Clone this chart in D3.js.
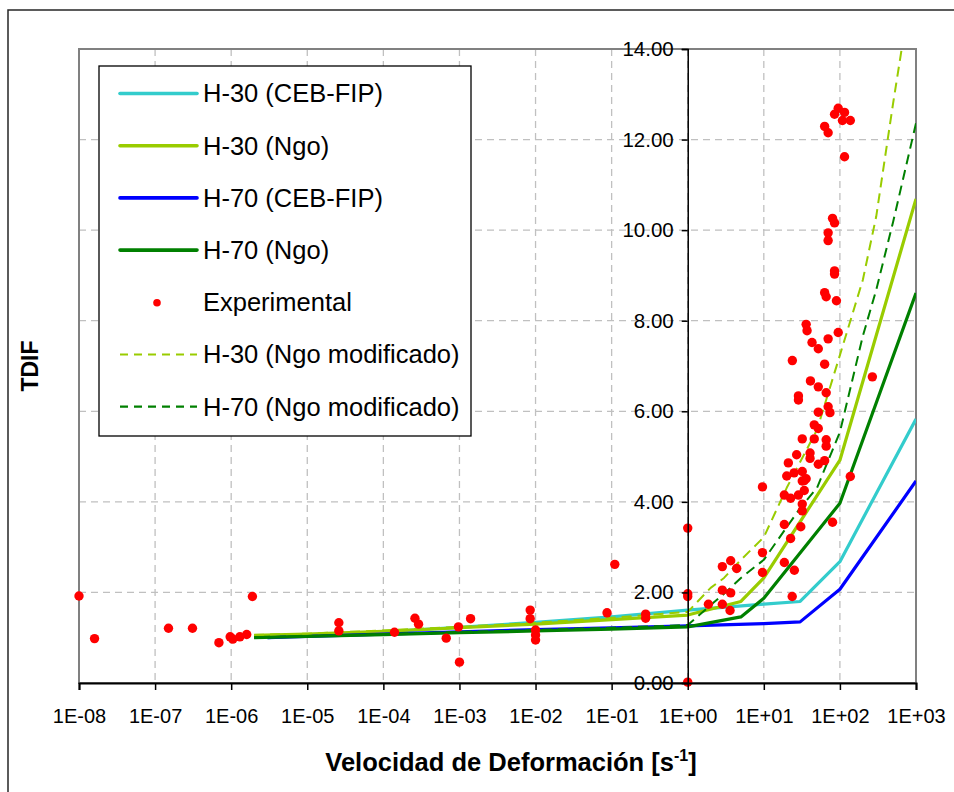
<!DOCTYPE html>
<html><head><meta charset="utf-8">
<script src="https://cdn.jsdelivr.net/npm/d3@7"></script>
<style>
html,body{margin:0;padding:0;background:#fff;}
svg{display:block;font-family:"Liberation Sans",Arial,sans-serif;}
</style></head>
<body><svg id="chart" width="954" height="792"></svg>
<script>
// ---------- data ----------
const xTickValues = [1e-8,1e-7,1e-6,1e-5,1e-4,1e-3,1e-2,1e-1,1,10,100,1000];
const xTickLabels = ["1E-08","1E-07","1E-06","1E-05","1E-04","1E-03","1E-02","1E-01","1E+00","1E+01","1E+02","1E+03"];
const yTickValues = [0,2,4,6,8,10,12,14];
const yTickLabels = ["0.00","2.00","4.00","6.00","8.00","10.00","12.00","14.00"];

const cebRates = [3e-6,1e-5,1e-4,1e-3,1e-2,1e-1,1,10,30,100,1000];
const cebH30   = [1.00,1.05,1.13,1.23,1.34,1.46,1.61,1.74,1.80,2.68,5.83];
const cebH70   = [1.00,1.03,1.08,1.13,1.18,1.22,1.26,1.31,1.35,2.07,4.46];

const ngoRates = [2e-6,1e-5,1e-4,1e-3,1e-2,1e-1,1,5,10,100,1000];
const ngoH30   = [1.05,1.08,1.14,1.22,1.30,1.40,1.50,1.80,2.32,4.92,10.69];
const ngoH70   = [1.00,1.03,1.07,1.11,1.15,1.19,1.24,1.46,1.87,3.97,8.61];

const modRates = [2e-6,1e-5,1e-4,1e-3,1e-2,1e-1,1,2,3,5,10,20,30,50,100,200,300,500,1000];
const modH30   = [1.06,1.09,1.16,1.24,1.33,1.44,1.57,2.10,2.32,2.72,3.22,4.31,4.88,5.59,7.24,8.90,10.30,12.80,16.00];
const modH70   = [1.00,1.04,1.08,1.13,1.17,1.22,1.28,1.72,1.97,2.32,2.72,3.44,3.86,4.31,5.54,7.66,8.68,10.18,12.36];

const expRates = [1e-8,1.6e-8,1.5e-7,3.1e-7,6.9e-7,9.7e-7,1.05e-6,1.3e-6,1.6e-6,1.9e-6,2.6e-5,2.6e-5,
  1.4e-4,2.6e-4,2.9e-4,6.7e-4,9.7e-4,1.0e-3,1.4e-3,8.5e-3,8.5e-3,1e-2,1e-2,1e-2,0.087,0.11,0.28,0.28,1,1,1,1,
  1.87,2.85,3.67,4.4,2.85,3.67,2.85,3.6,9.6,9.6,9.6,
  18.6,22.5,18.6,18.6,25.2,23.6,22.5,30.6,28.5,32,32,34,80,137,
  20,25,32,34,36,32,21,27,40.5,40.5,52,63,66,66,46,32,46,52,52,70,74,28.5,28.5,41,52,66,23.7,63,43,52,70,95,36,37,63,66,90,
  95,85,115,108,137,63,70,115,80,85,70,70,85,85,267];
const expTDIF  = [1.92,0.98,1.21,1.21,0.89,1.02,0.97,1.02,1.07,1.91,1.33,1.15,
  1.12,1.43,1.30,0.99,1.24,0.46,1.42,1.61,1.42,1.17,1.06,0.95,1.55,2.62,1.52,1.43,1.97,1.91,0.02,3.42,
  1.74,2.57,2.70,2.53,2.05,1.99,1.74,1.60,4.33,2.88,2.44,
  4.15,4.08,3.50,2.66,2.49,1.91,3.19,3.45,4.15,3.95,3.80,4.25,3.55,4.56,
  4.57,4.64,4.67,4.47,4.51,4.46,4.86,5.04,5.08,4.96,4.83,4.91,5.37,5.23,5.39,5.39,5.70,5.62,5.98,6.10,5.97,6.34,6.25,6.67,6.54,6.41,7.12,7.04,7.52,7.38,7.60,7.74,7.92,7.78,8.62,8.53,8.44,
  12.69,12.56,12.60,12.42,12.42,12.29,12.15,11.62,10.26,10.16,9.94,9.77,9.10,9.03,6.76];

const seriesNames = ["H-30 (CEB-FIP)","H-30 (Ngo)","H-70 (CEB-FIP)","H-70 (Ngo)","Experimental","H-30 (Ngo modificado)","H-70 (Ngo modificado)"];

// ---------- drawing ----------
const svg = d3.select("#chart");
const X0=79, X1=916, Y0=683, Y1=49;
const x = d3.scaleLog().domain([1e-8,1e3]).range([X0,X1]);
const y = d3.scaleLinear().domain([0,14]).range([Y0,Y1]);

// outer chart border
svg.append("rect").attr("x",8).attr("y",10).attr("width",960).attr("height",800)
  .attr("fill","none").attr("stroke","#262626").attr("stroke-width",1.5);

svg.append("defs").append("clipPath").attr("id","clip")
  .append("rect").attr("x",X0).attr("y",Y1).attr("width",X1-X0).attr("height",Y0-Y1);

// grid
const grid = svg.append("g");
grid.selectAll(".vg").data(xTickValues.slice(1,-1)).join("line")
  .attr("x1",d=>x(d)).attr("x2",d=>x(d)).attr("y1",Y1).attr("y2",Y0)
  .attr("stroke","#c0c0c0").attr("stroke-width",1.3).attr("stroke-dasharray","7,5");
grid.selectAll(".hg").data(yTickValues.slice(1,-1)).join("line")
  .attr("x1",X0).attr("x2",X1).attr("y1",d=>y(d)).attr("y2",d=>y(d))
  .attr("stroke","#c0c0c0").attr("stroke-width",1.3).attr("stroke-dasharray","7,5");

// plot area border
svg.append("rect").attr("x",X0).attr("y",Y1).attr("width",X1-X0).attr("height",Y0-Y1)
  .attr("fill","none").attr("stroke","#808080").attr("stroke-width",2);

const plot = svg.append("g").attr("clip-path","url(#clip)");
const line = d3.line().x(d=>x(d[0])).y(d=>y(d[1]));
function drawLine(rates, vals, color, width, dash){
  plot.append("path").datum(rates.map((r,i)=>[r,vals[i]]))
    .attr("d",line).attr("fill","none").attr("stroke",color).attr("stroke-width",width)
    .attr("stroke-linejoin","round").attr("stroke-dasharray",dash||null);
}
const styles = [
  {c:"#33CCCC",w:3.2},{c:"#99CC00",w:3.2},{c:"#0000FF",w:3.2},{c:"#008000",w:3.2},
  {c:"#FF0000"},{c:"#99CC00",w:2,d:"10,6"},{c:"#008000",w:2,d:"10,6"}];
drawLine(cebRates, cebH30, styles[0].c, styles[0].w);
drawLine(ngoRates, ngoH30, styles[1].c, styles[1].w);
drawLine(cebRates, cebH70, styles[2].c, styles[2].w);
drawLine(ngoRates, ngoH70, styles[3].c, styles[3].w);
svg.append("g").selectAll("circle").data(expRates.map((r,i)=>[r,expTDIF[i]])).join("circle")
  .attr("cx",d=>x(d[0])).attr("cy",d=>y(d[1])).attr("r",4.7).attr("fill","#FF0000");
drawLine(modRates, modH30, styles[5].c, styles[5].w, styles[5].d);
drawLine(modRates, modH70, styles[6].c, styles[6].w, styles[6].d);

// x axis
const xAxis = svg.append("g").attr("transform",`translate(0,${Y0})`)
  .call(d3.axisBottom(x).tickValues(xTickValues).tickFormat((d,i)=>xTickLabels[i]).tickSize(7).tickPadding(19));
xAxis.select(".domain").attr("stroke","#000").attr("stroke-width",2);
xAxis.selectAll(".tick line").attr("stroke","#000").attr("stroke-width",1.5);
xAxis.selectAll("text").attr("font-size",20).attr("fill","#000");

// y axis at x = 1
const yAxis = svg.append("g").attr("transform",`translate(${x(1)},0)`)
  .call(d3.axisLeft(y).tickValues(yTickValues).tickFormat((d,i)=>yTickLabels[i]).tickSize(6).tickPadding(8));
yAxis.select(".domain").attr("stroke","#000").attr("stroke-width",1.5);
yAxis.selectAll(".tick line").attr("stroke","#000").attr("stroke-width",1.5);
yAxis.selectAll("text").attr("font-size",20.5).attr("fill","#000");

// axis titles
const xt = svg.append("text").attr("x",511).attr("y",771).attr("text-anchor","middle")
  .attr("font-size",25.5).attr("font-weight","bold").attr("fill","#000");
xt.append("tspan").text("Velocidad de Deformación [s");
xt.append("tspan").attr("font-size",16).attr("dy",-10).text("-1");
xt.append("tspan").attr("dy",10).text("]");
svg.append("text").attr("transform","translate(38,366) rotate(-90)").attr("text-anchor","middle")
  .attr("font-size",23).attr("font-weight","bold").attr("fill","#000").text("TDIF");

// legend
const lg = svg.append("g");
lg.append("rect").attr("x",99).attr("y",66).attr("width",372).attr("height",370)
  .attr("fill","#fff").attr("stroke","#000").attr("stroke-width",1.3);
seriesNames.forEach((name,i)=>{
  const cy = 93.5 + i*52.2;
  const s = styles[i];
  if(i===4){
    lg.append("circle").attr("cx",157).attr("cy",cy+0.5).attr("r",3.8).attr("fill",s.c);
  } else {
    lg.append("line").attr("x1",120).attr("x2",197).attr("y1",cy).attr("y2",cy)
      .attr("stroke",s.c).attr("stroke-width",s.d?2.2:3.6).attr("stroke-linecap",s.d?"butt":"round")
      .attr("stroke-dasharray",s.d?"8,6":null);
  }
  lg.append("text").attr("x",203).attr("y",cy).attr("dy","0.35em").attr("font-size",25.5)
    .attr("fill","#000").text(name);
});
</script></body></html>
